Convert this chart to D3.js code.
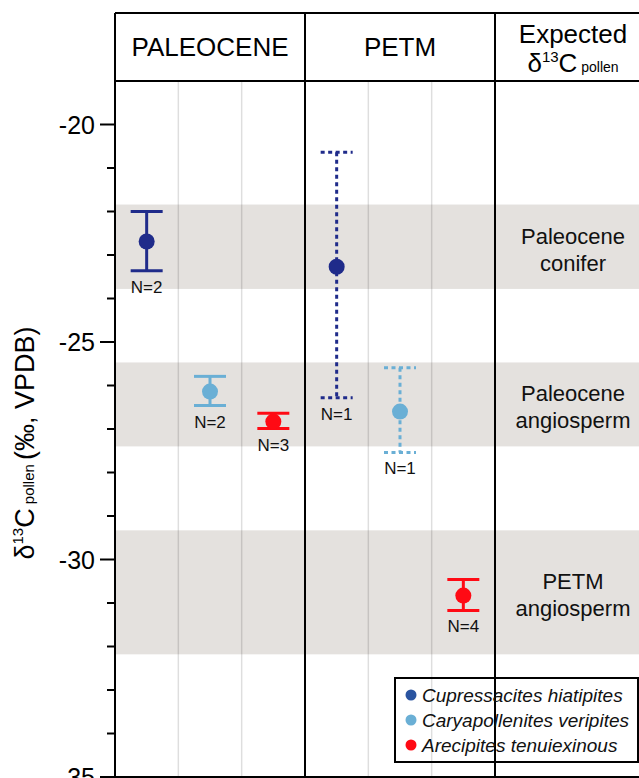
<!DOCTYPE html>
<html><head><meta charset="utf-8">
<script src="https://cdn.jsdelivr.net/npm/d3@7"></script>
<style>body{margin:0;background:#fff}svg{display:block;font-family:"Liberation Sans",Arial,sans-serif}</style>
</head><body>
<svg id="c" width="639" height="778"></svg>
<script>
// ---- data ----
const periods = ["PALEOCENE", "PETM"];
const taxa = ["Cupressacites hiatipites", "Caryapollenites veripites", "Arecipites tenuiexinous"];
const pointPeriod = ["PALEOCENE","PALEOCENE","PALEOCENE","PETM","PETM","PETM"];
const pointTaxon = [0,1,2,0,1,2];
const means = [-22.69, -26.14, -26.83, -23.27, -26.60, -30.83];
const upper = [-22.00, -25.79, -26.64, -20.64, -25.59, -30.46];
const lower = [-23.36, -26.46, -26.99, -26.28, -27.54, -31.17];
const nCounts = [2, 2, 3, 1, 1, 4];
const bandLine1 = ["Paleocene", "Paleocene", "PETM"];
const bandLine2 = ["conifer", "angiosperm", "angiosperm"];
const bandTop = [-21.84, -25.47, -29.33];
const bandBottom = [-23.78, -27.40, -32.18];
const yTicks = d3.range(-35, -19, 1);
const yLabelTicks = [-35, -30, -25, -20];

// ---- styles ----
const dataColors = ["#1f2b8a", "#6aafd5", "#ff0a14"];
const legendColors = ["#2a54a0", "#6aafd5", "#ff0a14"];

const svg = d3.select("#c");
const leftX = 115, colW = 190, topY = 13, headB = 81, bottomY = 777;
const y = d3.scaleLinear().domain([-35, -19]).range([bottomY, headB]);
const xPeriod = d3.scaleBand().domain([...periods, "Expected"]).range([leftX, leftX + 3 * colW]);
const xSub = d3.scaleBand().domain(d3.range(taxa.length)).range([0, colW]);

// bands
const bands = svg.append("g");
bandTop.forEach((t, i) => {
  bands.append("rect").attr("x", leftX).attr("width", 639 - leftX)
    .attr("y", y(t)).attr("height", y(bandBottom[i]) - y(t)).attr("fill", "#e4e1de");
  const cx = xPeriod("Expected") + colW / 2 - 17;
  const my = (y(t) + y(bandBottom[i])) / 2;
  const tx = bands.append("text").attr("text-anchor", "middle").attr("font-size", 22).attr("fill", "#111");
  tx.append("tspan").attr("x", cx).attr("y", my - 3).text(bandLine1[i]);
  tx.append("tspan").attr("x", cx).attr("y", my + 24).text(bandLine2[i]);
});

// grey grid lines
periods.forEach(p => {
  [1, 2].forEach(k => {
    svg.append("line").attr("x1", xPeriod(p) + xSub(k)).attr("x2", xPeriod(p) + xSub(k))
      .attr("y1", headB).attr("y2", bottomY).attr("stroke", "rgba(0,0,0,0.13)").attr("stroke-width", 1.5);
  });
});

// frame
const frame = svg.append("g").attr("stroke", "#000").attr("stroke-width", 2).attr("fill", "none");
frame.append("line").attr("x1", leftX).attr("x2", 639).attr("y1", topY).attr("y2", topY);
frame.append("line").attr("x1", leftX).attr("x2", 639).attr("y1", headB).attr("y2", headB);
frame.append("line").attr("x1", leftX).attr("x2", 639).attr("y1", bottomY).attr("y2", bottomY);
[leftX, xPeriod("PETM"), xPeriod("Expected")].forEach(x => {
  frame.append("line").attr("x1", x).attr("x2", x).attr("y1", topY).attr("y2", bottomY);
});

// header texts
periods.forEach(p => {
  svg.append("text").attr("x", xPeriod(p) + colW / 2).attr("y", 56).attr("text-anchor", "middle")
    .attr("font-size", 26).text(p);
});
const ex = xPeriod("Expected") + colW / 2 - 17;
svg.append("text").attr("x", ex).attr("y", 43).attr("text-anchor", "middle").attr("font-size", 26).text("Expected");
const h2 = svg.append("text").attr("x", ex).attr("y", 72).attr("text-anchor", "middle").attr("font-size", 26);
h2.append("tspan").text("δ");
h2.append("tspan").attr("font-size", 15).attr("dy", -10).text("13");
h2.append("tspan").attr("dy", 10).text("C");
h2.append("tspan").attr("font-size", 14).text(" pollen");

// y axis
const yAxis = svg.append("g");
yTicks.forEach(v => {
  const major = yLabelTicks.includes(v);
  yAxis.append("line").attr("x1", major ? 100 : 107).attr("x2", leftX).attr("y1", y(v)).attr("y2", y(v))
    .attr("stroke", "#000").attr("stroke-width", 2);
  if (major) yAxis.append("text").attr("x", 95).attr("y", y(v) + 9).attr("text-anchor", "end")
    .attr("font-size", 25).text(String(v));
});
const yl = svg.append("text").attr("transform", "translate(34,443) rotate(-90)").attr("text-anchor", "middle").attr("font-size", 27);
yl.append("tspan").text("δ");
yl.append("tspan").attr("font-size", 15).attr("dy", -11).text("13");
yl.append("tspan").attr("dy", 11).text("C");
yl.append("tspan").attr("font-size", 15).text(" pollen ");
yl.append("tspan").text("(‰, VPDB)");

// error bars and points
const capW = 32;
means.forEach((m, i) => {
  const cx = xPeriod(pointPeriod[i]) + xSub(pointTaxon[i]) + xSub.bandwidth() / 2;
  const col = dataColors[pointTaxon[i]];
  const dash = nCounts[i] === 1 ? "4,3.5" : null;
  const g = svg.append("g").attr("stroke", col).attr("stroke-width", 3).attr("fill", "none");
  g.append("line").attr("x1", cx).attr("x2", cx).attr("y1", y(upper[i])).attr("y2", y(lower[i])).attr("stroke-dasharray", dash);
  [upper[i], lower[i]].forEach(v => {
    g.append("line").attr("x1", cx - capW / 2).attr("x2", cx + capW / 2).attr("y1", y(v)).attr("y2", y(v)).attr("stroke-dasharray", dash);
  });
  svg.append("circle").attr("cx", cx).attr("cy", y(m)).attr("r", 8).attr("fill", col);
  svg.append("text").attr("x", cx).attr("y", y(lower[i]) + 22).attr("text-anchor", "middle")
    .attr("font-size", 17).attr("fill", "#111").text("N=" + nCounts[i]);
});

// legend
const lg = svg.append("g");
lg.append("rect").attr("x", 395).attr("y", 678).attr("width", 243).attr("height", 84)
  .attr("fill", "none").attr("stroke", "#000").attr("stroke-width", 2);
taxa.forEach((t, i) => {
  const ry = 695 + i * 25;
  lg.append("circle").attr("cx", 411).attr("cy", ry).attr("r", 5.5).attr("fill", legendColors[i]);
  lg.append("text").attr("x", 422).attr("y", ry + 6.5).attr("font-size", 19).attr("font-style", "italic")
    .attr("fill", "#111").text(t);
});
</script>
</body></html>
